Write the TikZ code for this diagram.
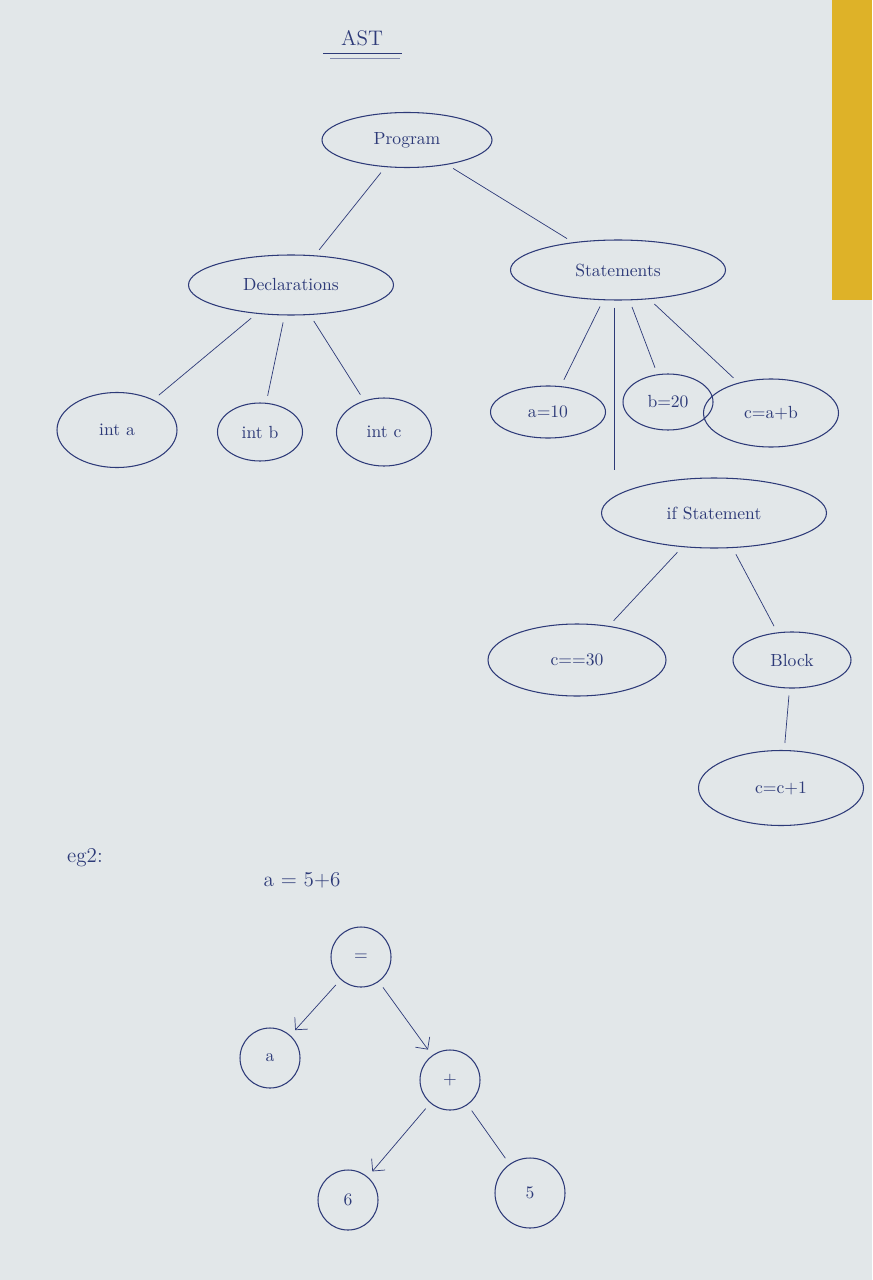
\documentclass[tikz,border=0pt]{standalone}
\usepackage{tikz}
\usetikzlibrary{shapes.geometric,arrows.meta}

\definecolor{ink}{RGB}{45,58,120}
\definecolor{paper}{RGB}{226,231,233}
\definecolor{bookedge}{RGB}{222,178,40}

\tikzset{
  oval/.style={ellipse, draw=ink, semithick, text=ink, inner sep=0pt},
  leaf/.style={circle, draw=ink, semithick, text=ink, minimum size=60*0.02cm},
  edge/.style={draw=ink, thin, shorten <=4pt, shorten >=4pt},
}

\begin{document}
\begin{tikzpicture}[x=0.02cm, y=-0.02cm, every node/.style={font=\normalsize}]
			% Paper
			\fill[paper] (0,0) rectangle (872,1280);
			\fill[bookedge] (832,0) rectangle (872,300);
			\useasboundingbox (0,0) rectangle (872,1280);

			% Title
			\node[text=ink, font=\large] (title) at (362,38) {AST};
			\draw[ink] (323,53) -- (402,53);
			\draw[ink!60] (330,58) -- (400,58);

			% First tree
			\node[oval, minimum width=170*0.02cm, minimum height=55*0.02cm] (prog) at (407,140) {Program};
			\node[oval, minimum width=205*0.02cm, minimum height=60*0.02cm] (decl) at (291,285) {Declarations};
			\node[oval, minimum width=215*0.02cm, minimum height=60*0.02cm] (stmts) at (618,270) {Statements};

			\node[oval, minimum width=120*0.02cm, minimum height=75*0.02cm] (inta) at (117,430) {int a};
			\node[oval, minimum width=85*0.02cm, minimum height=58*0.02cm] (intb) at (260,432) {int b};
			\node[oval, minimum width=95*0.02cm, minimum height=68*0.02cm] (intc) at (384,432) {int c};

			\node[oval, minimum width=115*0.02cm, minimum height=52*0.02cm] (asga) at (548,412) {a=10};
			\node[oval, minimum width=90*0.02cm, minimum height=56*0.02cm] (asgb) at (668,402) {b=20};
			\node[oval, minimum width=135*0.02cm, minimum height=68*0.02cm] (asgc) at (771,413) {c=a+b};

			\node[oval, minimum width=225*0.02cm, minimum height=70*0.02cm] (ifst) at (714,513) {if Statement};
			\node[oval, minimum width=178*0.02cm, minimum height=72*0.02cm] (cond) at (577,660) {c==30};
			\node[oval, minimum width=118*0.02cm, minimum height=56*0.02cm] (block) at (792,660) {Block};
			\node[oval, minimum width=165*0.02cm, minimum height=75*0.02cm] (incr) at (781,788) {c=c+1};

			\draw[edge] (prog) -- (decl);
			\draw[edge] (prog) -- (stmts);
			\draw[edge] (decl) -- (inta);
			\draw[edge] (decl) -- (intb);
			\draw[edge] (decl) -- (intc);
			\draw[edge] (stmts) -- (asga);
			\draw[edge] (stmts) -- (asgb);
			\draw[edge] (stmts) -- (asgc);
			\draw[edge] (stmts.south) ++(-4,0) coordinate (sdown) -- (sdown |- ifst.north);
			\draw[edge] (ifst) -- (cond);
			\draw[edge] (ifst) -- (block);
			\draw[edge] (block) -- (incr);

			% Second example
			\node[text=ink, font=\large] (eg) at (85,858) {eg2:};
			\node[text=ink, font=\large] (expr) at (302,880) {a = 5+6};

			\node[leaf] (eq) at (361,957) {=};
			\node[leaf] (va) at (270,1058) {a};
			\node[leaf] (plus) at (450,1080) {+};
			\node[leaf] (six) at (348,1200) {6};
			\node[leaf, minimum size=70*0.02cm] (five) at (530,1193) {5};

			\draw[edge, -{Straight Barb[length=5pt]}] (eq) -- (va);
			\draw[edge, -{Straight Barb[length=5pt]}] (eq) -- (plus);
			\draw[edge, -{Straight Barb[length=5pt]}] (plus) -- (six);
			\draw[edge] (plus) -- (five);
		\end{tikzpicture}
\end{document}
